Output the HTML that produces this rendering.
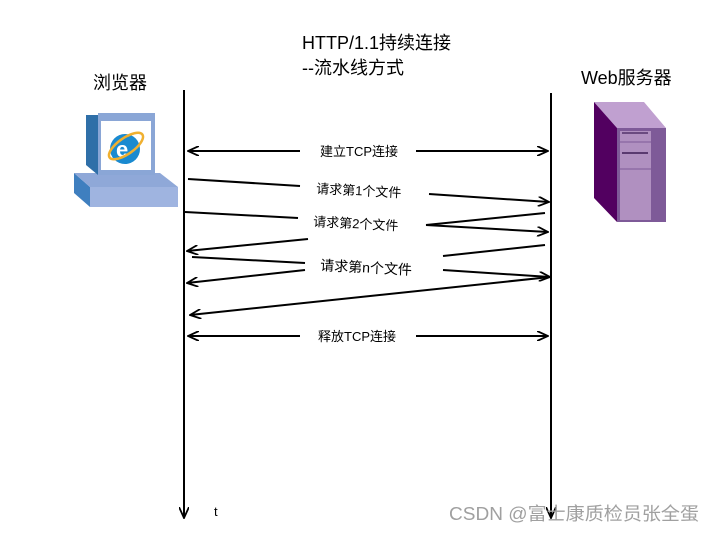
<!DOCTYPE html>
<html><head><meta charset="utf-8"><style>
html,body{margin:0;padding:0;background:#fff;}
svg{display:block;}
text{font-family:"Liberation Sans","Noto Sans CJK SC",sans-serif;}
</style></head><body>
<svg width="714" height="533" viewBox="0 0 714 533" xmlns="http://www.w3.org/2000/svg">
<defs>
<marker id="a" markerWidth="12" markerHeight="10" refX="11" refY="5" orient="auto" markerUnits="userSpaceOnUse">
<path d="M0,0 L11,5 L0,10" fill="none" stroke="#000" stroke-width="1.8"/>
</marker>
</defs>
<text x="302" y="49" font-size="18" fill="#000">HTTP/1.1持续连接</text>
<text x="302" y="74" font-size="18" fill="#000">--流水线方式</text>
<text x="93" y="89" font-size="18" fill="#000">浏览器</text>
<text x="581" y="84" font-size="18" fill="#000">Web服务器</text>

<!-- computer -->
<polygon points="74,173 90,187 178,187 178,207 90,207 74,193" fill="#3f7fbf"/>
<polygon points="74,173 160,173 178,187 90,187" fill="#8fa8d8"/>
<rect x="90" y="187" width="88" height="20" fill="#9fb4e0"/>
<polygon points="86,115 98,115 98,175 86,165" fill="#2f6fa8"/>
<rect x="98" y="113" width="57" height="62" fill="#8aa6d6"/>
<rect x="101" y="121" width="50" height="49" fill="#fff"/>
<circle cx="125" cy="149" r="15" fill="#1a8ad0"/>
<text x="116" y="157" font-size="22" fill="#fff" font-weight="bold">e</text>
<ellipse cx="126" cy="146" rx="20" ry="8" fill="none" stroke="#f0b030" stroke-width="2.5" transform="rotate(-35 126 146)"/>

<!-- server -->
<polygon points="594,102 644,102 666,128 617,128" fill="#c0a0d0"/>
<polygon points="594,102 617,128 617,222 594,198" fill="#520060"/>
<rect x="617" y="128" width="49" height="94" fill="#7e5a98"/>
<rect x="620" y="131" width="31" height="89" fill="#b090c0"/>
<line x1="622" y1="133" x2="648" y2="133" stroke="#6a4a80" stroke-width="2"/>
<line x1="620" y1="142" x2="651" y2="142" stroke="#7e5a98" stroke-width="1"/>
<line x1="622" y1="153" x2="648" y2="153" stroke="#5a3a70" stroke-width="2"/>
<line x1="620" y1="169" x2="651" y2="169" stroke="#7e5a98" stroke-width="1"/>

<!-- lifelines -->
<line x1="184" y1="90" x2="184" y2="518" stroke="#000" stroke-width="2" marker-end="url(#a)"/>
<line x1="551" y1="93" x2="551" y2="518" stroke="#000" stroke-width="2" marker-end="url(#a)"/>
<text x="214" y="516" font-size="13" fill="#000">t</text>

<g stroke="#000" stroke-width="2" fill="none">
<line x1="300" y1="151" x2="188" y2="151" marker-end="url(#a)"/>
<line x1="416" y1="151" x2="548" y2="151" marker-end="url(#a)"/>
<line x1="300" y1="336" x2="188" y2="336" marker-end="url(#a)"/>
<line x1="416" y1="336" x2="548" y2="336" marker-end="url(#a)"/>
<line x1="188" y1="179" x2="300" y2="186"/>
<line x1="429" y1="194" x2="549" y2="202" marker-end="url(#a)"/>
<line x1="185" y1="212" x2="298" y2="218"/>
<line x1="426" y1="225" x2="548" y2="232" marker-end="url(#a)"/>
<line x1="545" y1="213" x2="426" y2="225"/>
<line x1="308" y1="239" x2="187" y2="251" marker-end="url(#a)"/>
<line x1="545" y1="245" x2="443" y2="256"/>
<line x1="305" y1="270" x2="187" y2="283" marker-end="url(#a)"/>
<line x1="192" y1="257" x2="305" y2="263"/>
<line x1="443" y1="270" x2="550" y2="277" marker-end="url(#a)"/>
<line x1="550" y1="277" x2="190" y2="315" marker-end="url(#a)"/>
</g>
<text x="320" y="156" font-size="13" fill="#000">建立TCP连接</text>
<text x="318" y="341" font-size="13" fill="#000">释放TCP连接</text>
<text x="316" y="193" font-size="13" fill="#000" transform="rotate(3 316 193)">请求第1个文件</text>
<text x="313" y="226" font-size="13" fill="#000" transform="rotate(3 313 226)">请求第2个文件</text>
<text x="320" y="270" font-size="14" fill="#000" transform="rotate(3 320 270)">请求第n个文件</text>
<text x="449" y="520" font-size="18" fill="#a0a0a0" textLength="250" lengthAdjust="spacingAndGlyphs">CSDN @富士康质检员张全蛋</text>
</svg>
</body></html>
